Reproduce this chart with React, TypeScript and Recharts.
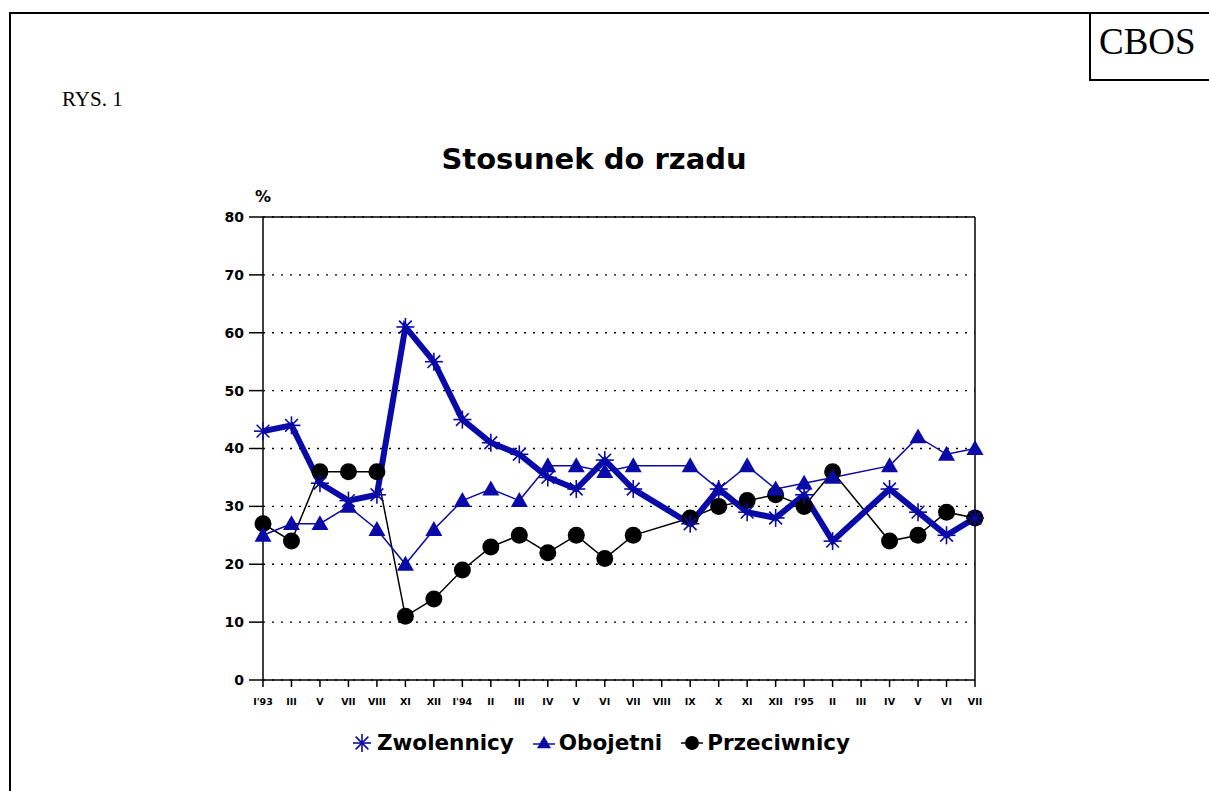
import { LineChart, Line, XAxis, YAxis, CartesianGrid, ReferenceLine } from 'recharts'

const months = ["I'93", 'III', 'V', 'VII', 'VIII', 'XI', 'XII', "I'94", 'II', 'III', 'IV', 'V', 'VI', 'VII', 'VIII', 'IX', 'X', 'XI', 'XII', "I'95", 'II', 'III', 'IV', 'V', 'VI', 'VII']
const zwolennicy = [43, 44, 34, 31, 32, 61, 55, 45, 41, 39, 35, 33, 38, 33, null, 27, 33, 29, 28, 32, 24, null, 33, 29, 25, 28]
const obojetni = [25, 27, 27, 30, 26, 20, 26, 31, 33, 31, 37, 37, 36, 37, null, 37, 33, 37, 33, 34, 35, null, 37, 42, 39, 40]
const przeciwnicy = [27, 24, 36, 36, 36, 11, 14, 19, 23, 25, 22, 25, 21, 25, null, 28, 30, 31, 32, 30, 36, null, 24, 25, 29, 28]
const yTicks = [0, 10, 20, 30, 40, 50, 60, 70, 80]

const BLUE = '#0a0aa8'
const SANS = '"DejaVu Sans", "Liberation Sans", Arial, sans-serif'
const SERIF = '"Liberation Serif", "Times New Roman", serif'

const data = months.map((m, i) => ({
  idx: i,
  month: m,
  zwolennicy: zwolennicy[i],
  obojetni: obojetni[i],
  przeciwnicy: przeciwnicy[i],
}))

// marker shapes
function Asterisk({ cx, cy, r = 9 }: any) {
  if (cx == null || cy == null) return <g />
  const d = r * 0.707
  return (
    <g stroke={BLUE} strokeWidth={1.6}>
      <line x1={cx - r} y1={cy} x2={cx + r} y2={cy} />
      <line x1={cx} y1={cy - r} x2={cx} y2={cy + r} />
      <line x1={cx - d} y1={cy - d} x2={cx + d} y2={cy + d} />
      <line x1={cx - d} y1={cy + d} x2={cx + d} y2={cy - d} />
    </g>
  )
}

function Triangle({ cx, cy, s = 8.5 }: any) {
  if (cx == null || cy == null) return <g />
  return <polygon points={`${cx},${cy - s} ${cx + s},${cy + s * 0.75} ${cx - s},${cy + s * 0.75}`} fill={BLUE} />
}

function Dot({ cx, cy, r = 8.5 }: any) {
  if (cx == null || cy == null) return <g />
  return <circle cx={cx} cy={cy} r={r} fill="#000" />
}

function LegendItem({ icon, label, last }: { icon: any; label: string; last?: boolean }) {
  return (
    <span style={{ display: 'inline-flex', alignItems: 'center', marginRight: last ? 0 : 18 }}>
      <svg width={24} height={22} style={{ marginRight: 3 }}>{icon}</svg>
      <span>{label}</span>
    </span>
  )
}

export default function App() {
  return (
    <div style={{ position: 'absolute', left: 0, top: 0, width: 1209, height: 791, background: '#fff', overflow: 'hidden' }}>
      {/* page frame */}
      <div style={{ position: 'absolute', left: 9, top: 12, width: 1300, height: 900, borderLeft: '2px solid #000', borderTop: '2px solid #000' }} />
      <div style={{ position: 'absolute', left: 1089, top: 12, width: 200, height: 67, borderLeft: '2px solid #000', borderBottom: '2px solid #000' }} />
      <div style={{ position: 'absolute', left: 1099, top: 22, fontFamily: SERIF, fontSize: 37, lineHeight: '40px' }}>CBOS</div>
      <div style={{ position: 'absolute', left: 62, top: 87, fontFamily: SERIF, fontSize: 21, lineHeight: '24px' }}>RYS. 1</div>

      <div style={{ position: 'absolute', left: 0, width: 1188, top: 141, textAlign: 'center', fontFamily: SANS, fontWeight: 'bold', fontSize: 29, lineHeight: '36px' }}>
        Stosunek do rzadu
      </div>
      <div style={{ position: 'absolute', left: 255, top: 187, fontFamily: SANS, fontWeight: 'bold', fontSize: 16 }}>%</div>

      <div style={{ position: 'absolute', left: 0, top: 0 }}>
        <LineChart
          width={1209}
          height={791}
          data={data}
          margin={{ top: 217, right: 234, left: 223, bottom: 81 }}
        >
          <CartesianGrid vertical={false} stroke="#000" strokeWidth={1.3} strokeDasharray="2 7" />
          <XAxis
            dataKey="idx"
            type="number"
            domain={[0, 25]}
            ticks={data.map((d) => d.idx)}
            tickFormatter={(v: number) => months[v]}
            interval={0}
            height={30}
            tickSize={7}
            tickMargin={11}
            stroke="#000"
            strokeWidth={1.5}
            tick={{ fill: '#000', fontSize: 9.5, fontWeight: 'bold', fontFamily: SANS }}
          />
          <YAxis
            domain={[0, 80]}
            ticks={yTicks}
            interval={0}
            width={40}
            tickSize={14}
            tickMargin={5}
            stroke="#000"
            strokeWidth={1.5}
            tick={{ fill: '#000', fontSize: 14, fontWeight: 'bold', fontFamily: SANS }}
          />
          <ReferenceLine y={80} stroke="#000" strokeWidth={1.5} />
          <ReferenceLine x={25} stroke="#000" strokeWidth={1.5} />
          <Line
            dataKey="przeciwnicy" stroke="#000" strokeWidth={1.5} connectNulls
            isAnimationActive={false}
            dot={(p: any) => <Dot key={`p${p.index}`} cx={p.cx} cy={p.cy} />}
          />
          <Line
            dataKey="zwolennicy" stroke={BLUE} strokeWidth={6} connectNulls
            isAnimationActive={false}
            dot={(p: any) => <Asterisk key={`z${p.index}`} cx={p.cx} cy={p.cy} />}
          />
          <Line
            dataKey="obojetni" stroke={BLUE} strokeWidth={1.5} connectNulls
            isAnimationActive={false}
            dot={(p: any) => <Triangle key={`o${p.index}`} cx={p.cx} cy={p.cy} />}
          />
        </LineChart>
      </div>

      <div style={{ position: 'absolute', left: 0, width: 1200, top: 728, textAlign: 'center', fontFamily: SANS, fontWeight: 'bold', fontSize: 21.5, lineHeight: '30px' }}>
        <LegendItem icon={<Asterisk cx={12} cy={11} r={9} />} label="Zwolennicy" />
        <LegendItem
          icon={<g><line x1={1} y1={12} x2={23} y2={12} stroke={BLUE} strokeWidth={1.5} /><Triangle cx={12} cy={11} s={7} /></g>}
          label="Obojetni"
        />
        <LegendItem
          icon={<g><line x1={1} y1={11} x2={23} y2={11} stroke="#000" strokeWidth={1.5} /><Dot cx={12} cy={11} r={7} /></g>}
          label="Przeciwnicy"
          last
        />
      </div>
    </div>
  )
}
